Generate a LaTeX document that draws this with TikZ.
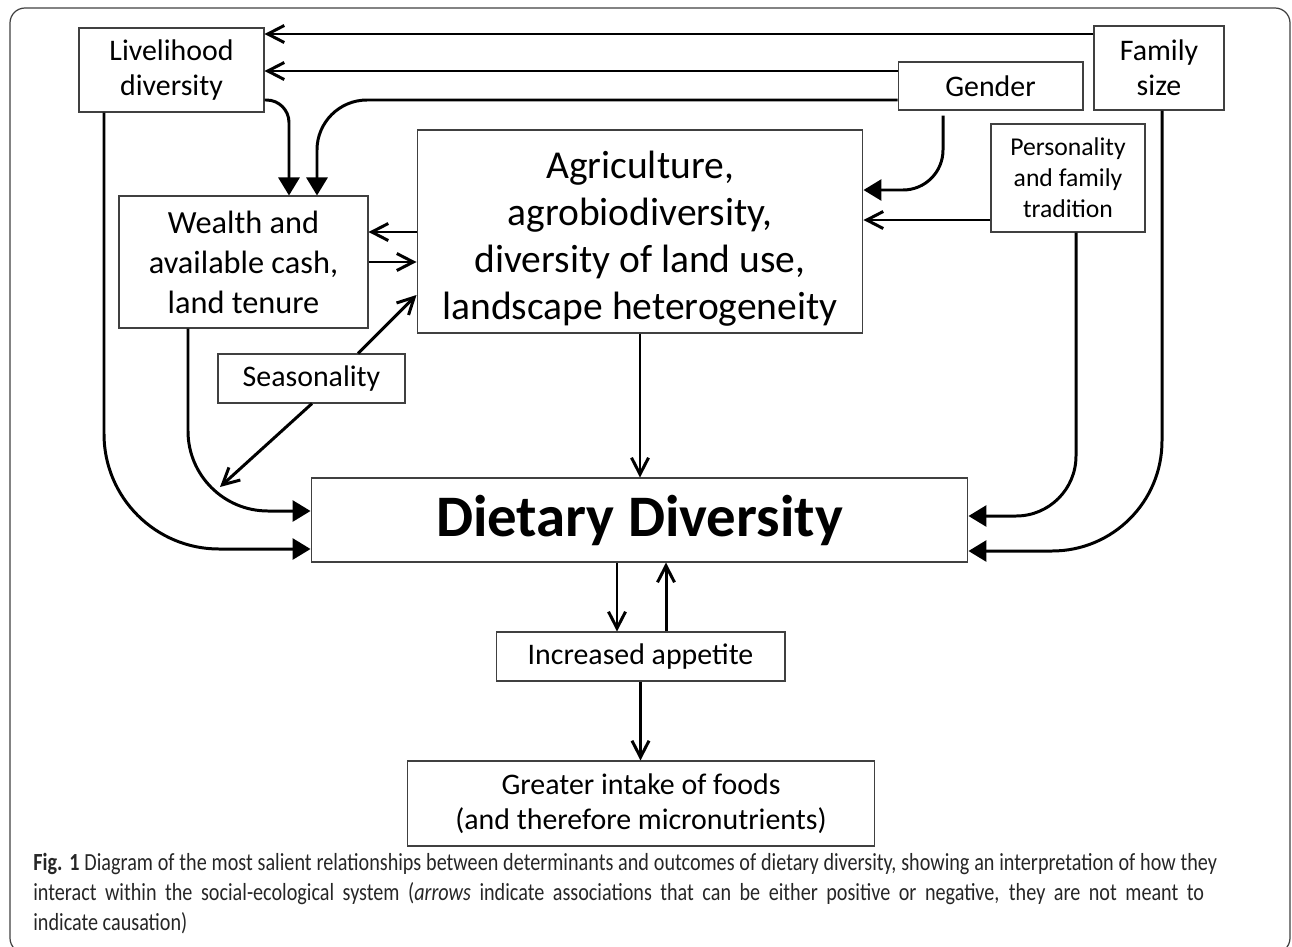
\documentclass[tikz,border=0pt]{standalone}
\usepackage{fontspec}
\setmainfont{Carlito}
\newfontfamily\capfont{Carlito}[FakeStretch=0.82]
\usepackage{tikz}
\usetikzlibrary{arrows.meta,positioning}

\begin{document}
\begin{tikzpicture}[x=0.02cm, y=-0.02cm]
    \tikzstyle{factor} = [rectangle, draw=black!75, line width=0.6pt, inner sep=0pt, align=center, font=\fontsize{17}{20}\selectfont]
    \tikzstyle{link} = [draw, line width=1.7pt, -{Straight Barb[length=3.3mm,width=3.4mm,line width=1.7pt]}]
    \tikzstyle{curve} = [draw, line width=1.7pt, -{Triangle[length=3.6mm,width=4.2mm]}]

    \useasboundingbox (0,0) rectangle (1292,947);
    \draw[black!75, line width=0.7pt, rounded corners=0.3cm] (10,8) rectangle (1290,953);

    % determinants
    \node [factor, minimum width=3.70cm, minimum height=1.68cm] (liveli) at (171.5,70) {Livelihood\\diversity};
    \node [factor, minimum width=3.70cm, minimum height=0.96cm] (gender) at (990.5,86) {Gender};
    \node [factor, minimum width=2.60cm, minimum height=1.68cm] (family) at (1159,68) {Family\\size};
    \node [factor, minimum width=3.08cm, minimum height=2.16cm, font=\fontsize{14.6}{17.6}\selectfont] (pers) at (1068,178) {Personality\\and family\\tradition};
    \node [factor, minimum width=4.98cm, minimum height=2.64cm, font=\fontsize{18.4}{22.8}\selectfont] (wealth) at (243.5,262) {Wealth and\\available cash,\\land tenure};
    \node [factor, minimum width=8.92cm, minimum height=4.06cm, font=\fontsize{22.5}{26.8}\selectfont] (agri) at (640,231.5) {\rule{0pt}{24pt}Agriculture,\\agrobiodiversity,\\diversity of land use,\\landscape heterogeneity};
    \node [factor, minimum width=3.74cm, minimum height=0.98cm] (season) at (311.5,378.5) {Seasonality};

    % outcomes
    \node [factor, minimum width=13.14cm, minimum height=1.68cm, font=\fontsize{33.5}{40}\selectfont\bfseries] (diet) at (639.5,520) {Dietary Diversity};
    \node [factor, minimum width=5.78cm, minimum height=0.98cm] (appetite) at (640.5,656.5) {Increased appetite};
    \node [factor, minimum width=9.36cm, minimum height=1.70cm] (intake) at (641,803.5) {Greater intake of foods\\(and therefore micronutrients)};

    \draw [link] (family.west |- 0,34) -- (liveli.east |- 0,34);
    \draw [link] (gender.west |- 0,71) -- (liveli.east |- 0,71);
    \draw [curve, rounded corners=1cm] (gender.west |- 0,100) -| (wealth.north -| 317,0);
    \draw [curve, rounded corners=0.45cm] (liveli.east |- 0,100) -| (wealth.north -| 289,0);
    \draw [curve, rounded corners=2.3cm] (liveli.south -| 104,0) |- (diet.west |- 0,549);
    \draw [curve, rounded corners=1.6cm] (wealth.south -| 188,0) |- (diet.west |- 0,511);
    \draw [link] (agri.west |- 0,232) -- (wealth.east |- 0,232);
    \draw [link] (wealth.east |- 0,262) -- (agri.west |- 0,262);
    \draw [link] (season.north -| 358,0) -- (agri.west |- 0,295);
    \coordinate (sw) at (220,487);
    \draw [link] (season.south -| 312,0) -- (sw);
    \draw [curve, rounded corners=0.8cm, shorten <=0.1cm] (gender.south -| 943,0) |- (agri.east |- 0,190);
    \draw [link] (pers.west |- 0,220) -- (agri.east |- 0,220);
    \draw [curve, rounded corners=1.2cm] (pers.south -| 1076,0) |- (diet.east |- 0,516);
    \draw [curve, rounded corners=2.2cm] (family.south -| 1162,0) |- (diet.east |- 0,551);
    \draw [link] (agri.south) -- (agri.south |- diet.north);
    \draw [link] (diet.south -| 617,0) -- (appetite.north -| 617,0);
    \draw [link] (appetite.north -| 666,0) -- (diet.south -| 666,0);
    \draw [link] (appetite.south) -- (appetite.south |- intake.north);

    \node [anchor=north west, align=left, inner sep=0pt, text=black!85, font=\capfont\fontsize{14}{17}\selectfont] (caption) at (33,853) {\makebox[23.68cm][s]{\textbf{Fig. 1} Diagram of the most salient relationships between determinants and outcomes of dietary diversity, showing an interpretation of how they}\\\makebox[23.42cm][s]{interact within the social-ecological system (\textit{arrows} indicate associations that can be either positive or negative, they are not meant to}\\indicate causation)};
\end{tikzpicture}
\end{document}
